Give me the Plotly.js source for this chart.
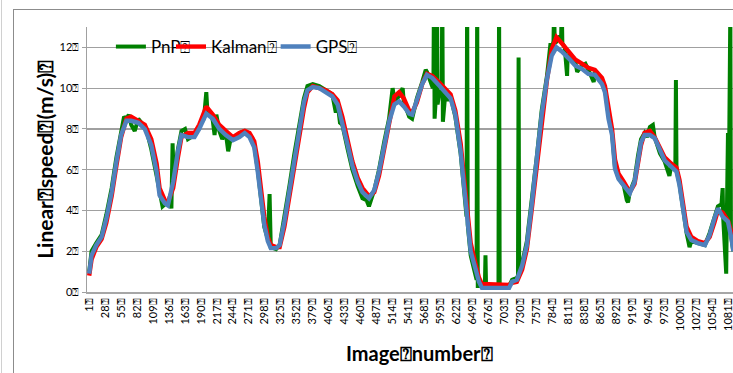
<!DOCTYPE html>
<html>
<head>
<meta charset="utf-8">
<script src="https://cdn.plot.ly/plotly-3.0.1.min.js"></script>
<style>
html,body{margin:0;padding:0;overflow:hidden;background:#fff;width:733px;height:373px;}
#frame{position:absolute;left:13px;top:9px;width:760px;height:400px;border:1px solid #8c8c8c;box-sizing:border-box;}
#edge{position:absolute;left:1px;top:0;width:1px;height:373px;background:#d0d0d0;}
#chart{position:absolute;left:0;top:0;width:733px;height:373px;}
</style>
</head>
<body>
<div id="edge"></div>
<div id="frame"></div>
<div id="chart"></div>
<script>
// ---- data ----
const seriesNames = ["PnP\u2370", "Kalman\u2370", "GPS\u2370"];

const xTickVals = [1,28,55,82,109,136,163,190,217,244,271,298,325,352,379,406,433,460,487,514,541,568,595,622,649,676,703,730,757,784,811,838,865,892,919,946,973,1000,1027,1054,1081];
const yTickVals = [0,2,4,6,8,10,12];

const gpsFrames = [1,5,13,22,30,39,47,55,64,72,84,95,106,115,120,129,134,143,151,157,168,179,187,199,210,221,232,244,255,264,272,280,286,292,297,303,308,317,323,331,340,348,357,364,370,379,390,401,412,421,429,438,446,455,463,474,483,491,500,508,517,525,533,542,547,555,564,572,581,592,603,612,620,629,634,640,646,654,660,665,677,694,711,716,724,733,741,749,758,766,775,783,791,800,812,823,834,845,856,868,873,879,885,890,896,905,915,923,929,934,940,949,957,966,974,985,994,999,1005,1011,1019,1030,1042,1050,1058,1064,1072,1081,1087,1090];
const gpsSpeed = [0.9,1.8,2.3,2.7,3.6,4.9,6.4,7.7,8.4,8.4,8.3,8.0,7.2,5.9,4.75,4.35,4.25,5.4,6.9,7.7,7.6,7.6,8.0,8.75,8.5,8.0,7.7,7.45,7.6,7.8,7.6,7.1,5.9,4.4,3.3,2.5,2.15,2.15,2.3,3.45,5.1,6.55,8.2,9.3,9.9,10.05,10.0,9.8,9.6,9.2,8.35,7.2,6.2,5.4,4.9,4.6,5.0,5.9,7.2,8.35,9.2,9.35,9.1,8.75,8.7,9.4,10.2,10.65,10.5,10.15,9.8,9.5,8.7,6.9,5.4,3.6,2.0,1.15,0.5,0.2,0.2,0.2,0.2,0.5,0.6,1.3,2.3,4.25,6.55,8.7,10.45,11.6,12.0,11.8,11.45,11.1,10.95,10.7,10.65,10.2,9.8,8.5,7.7,6.05,5.55,5.25,4.85,5.4,6.55,7.35,7.7,7.7,7.55,6.9,6.45,6.15,5.9,5.25,4.1,2.95,2.55,2.4,2.3,2.8,3.6,4.1,3.7,3.45,2.6,2.0];

const kalmanFrames = gpsFrames;
const kalmanSpeed = [0.8,1.6,2.2,2.6,3.4,4.7,6.2,7.6,8.5,8.6,8.4,8.2,7.5,6.3,5.1,4.5,4.4,5.1,6.6,7.6,7.8,7.8,8.2,9.1,8.7,8.2,7.9,7.6,7.8,7.9,7.8,7.4,6.4,4.9,3.7,2.7,2.3,2.2,2.2,3.2,4.8,6.3,7.9,9.0,9.8,10.1,10.0,9.9,9.7,9.4,8.6,7.4,6.4,5.6,5.1,4.7,4.9,5.7,7.0,8.2,9.6,9.8,9.5,8.9,8.8,9.3,10.2,10.7,10.6,10.3,10.0,9.7,8.9,7.3,5.8,4.0,2.4,1.4,0.7,0.4,0.4,0.35,0.35,0.45,0.5,1.1,2.1,4.0,6.3,8.5,10.4,11.9,12.5,12.2,11.8,11.4,11.2,11.0,10.9,10.5,10.1,9.0,8.0,6.5,5.8,5.4,4.9,5.3,6.4,7.2,7.8,7.9,7.6,7.1,6.6,6.3,6.1,5.5,4.4,3.2,2.7,2.5,2.4,2.7,3.4,4.0,3.9,3.5,2.9,2.3];

const pnpFrames = [1,5,13,22,30,39,47,55,60,64,68,72,78,84,95,100,106,115,120,125,129,132,138,140,142,144,151,157,163,168,179,187,195,199,201,206,210,213,216,221,226,232,236,240,244,255,264,272,280,286,292,297,303,306,308,317,323,331,340,348,357,364,370,379,390,401,412,418,421,425,429,438,446,455,463,470,474,483,491,500,508,514,517,525,531,533,542,547,555,564,570,572,578,582,583,584,585,587,589,590,594,597,598,599,603,608,612,620,629,634,638,639,640,641,646,654,656,657,658,660,665,670,671,672,677,686,693,694,695,703,711,716,724,726,727,728,733,741,749,758,766,775,781,783,786,787,788,791,795,799,800,801,805,809,810,812,823,826,834,840,845,850,854,856,862,868,873,879,885,890,896,905,910,912,915,923,929,934,940,944,949,954,957,966,974,982,985,992,993,994,999,1005,1011,1016,1019,1030,1042,1050,1058,1064,1070,1072,1073,1077,1078,1079,1081,1082,1085,1086,1090];
const pnpSpeed = [1.0,2.0,2.4,2.8,3.8,5.1,6.6,7.9,8.6,8.5,8.7,8.2,7.9,8.5,8.1,7.7,7.0,5.7,4.8,4.2,4.3,4.4,4.4,4.1,7.3,5.5,7.0,7.9,8.0,7.5,7.7,8.1,8.5,9.8,8.8,8.8,8.4,7.7,8.7,7.9,7.5,7.8,6.9,7.5,7.5,7.8,7.9,7.7,7.2,6.0,4.4,3.2,2.6,4.8,2.2,2.1,2.3,3.6,5.3,6.8,8.4,9.5,10.1,10.2,10.1,9.9,9.7,8.8,9.3,8.3,8.2,7.0,6.0,5.2,4.6,4.5,4.2,5.0,6.0,7.4,8.5,10.0,9.4,9.6,10.0,9.3,8.6,8.5,9.5,10.3,10.9,10.8,10.3,10.0,10.2,15,8.5,9.5,15,9.2,9.9,9.6,15,8.35,9.7,9.4,9.6,8.6,6.8,5.3,4.0,3.7,15,3.3,1.8,0.9,0.6,15,0.3,0.3,0.3,0.3,1.8,0.3,0.3,0.3,0.3,15,0.3,0.3,0.3,0.6,0.7,0.8,11.5,1.0,1.4,2.5,4.4,6.7,8.9,10.6,12.2,11.9,12.3,14,12.4,12.3,12.5,12.6,14,12.2,12.0,10.6,11.6,11.6,11.3,10.8,11.1,11.2,10.9,10.5,10.3,10.8,10.6,10.4,10.0,8.7,7.8,6.1,5.6,5.2,4.5,4.4,4.9,5.5,6.7,7.5,7.8,7.6,8.1,8.2,7.6,6.8,6.4,5.7,6.2,6.1,10.4,6.0,5.3,4.0,2.9,2.2,2.5,2.4,2.3,2.9,3.7,4.2,4.3,5.1,3.6,0.9,0.9,3.5,7.8,3.4,14,2.8,2.0];

const seriesColors = ["#008000", "#ff0000", "#4f81bd"];

// ---- chart ----
const font = "Lato, 'Liberation Sans', sans-serif";
const box = "\u2370";
const xTickText = xTickVals.map(v => v + box);
const yTickText = yTickVals.map(v => v + box);

const traces = [
  {x: pnpFrames, y: pnpSpeed, name: seriesNames[0], legend: "legend"},
  {x: kalmanFrames, y: kalmanSpeed, name: seriesNames[1], legend: "legend2"},
  {x: gpsFrames, y: gpsSpeed, name: seriesNames[2], legend: "legend3"}
].map((t, i) => Object.assign(t, {
  type: "scatter", mode: "lines", hoverinfo: "skip",
  line: {color: seriesColors[i], width: i === 0 ? 4 : 4.4}
}));

const lgBase = {orientation: "h", yanchor: "middle", y: 0.9245, xanchor: "left",
  bgcolor: "rgba(0,0,0,0)", font: {family: font, size: 17, color: "#000"},
  borderwidth: 0, itemwidth: 30};

const layout = {
  width: 733, height: 373,
  margin: {l: 87, r: 0, t: 27, b: 81},
  paper_bgcolor: "rgba(0,0,0,0)",
  plot_bgcolor: "rgba(0,0,0,0)",
  showlegend: true,
  legend: Object.assign({}, lgBase, {x: 0.037}),
  legend2: Object.assign({}, lgBase, {x: 0.13}),
  legend3: Object.assign({}, lgBase, {x: 0.292}),
  xaxis: {
    range: [-2.7, 1089.5], tickmode: "array", tickvals: xTickVals, ticktext: xTickText,
    tickangle: -90, tickfont: {family: font, size: 11, color: "#000"},
    ticklabeloverflow: "allow",
    showgrid: false, zeroline: false, showline: true, linecolor: "#a6a6a6", linewidth: 2,
    ticks: "", fixedrange: true
  },
  yaxis: {
    range: [0, 13], tickmode: "array", tickvals: yTickVals, ticktext: yTickText,
    tickfont: {family: font, size: 11, color: "#000"},
    showgrid: true, gridcolor: "#a0a0a0", gridwidth: 1.3, zeroline: false,
    showline: true, linecolor: "#a0a0a0", linewidth: 1.5,
    ticks: "outside", ticklen: 4, tickcolor: "#a0a0a0", fixedrange: true
  },
  shapes: [{type: "rect", xref: "paper", yref: "paper", layer: "between",
    x0: 0.04, x1: 0.385, y0: 0.89, y1: 0.96, fillcolor: "#fff", line: {width: 0}}],
  annotations: [
    {text: "<b>Linear" + box + "speed" + box + "(m/s)" + box + "</b>", textangle: -90,
     xref: "paper", yref: "paper", x: -0.066, y: 0.5, xanchor: "center", yanchor: "middle",
     showarrow: false, font: {family: font, size: 21, color: "#000"}},
    {text: "<b>Image" + box + "number" + box + "</b>",
     xref: "paper", yref: "paper", x: 0.515, y: -0.23, xanchor: "center", yanchor: "middle",
     showarrow: false, font: {family: font, size: 20, color: "#000"}}
  ]
};

Plotly.newPlot("chart", traces, layout, {displayModeBar: false, staticPlot: true});
</script>
</body>
</html>
